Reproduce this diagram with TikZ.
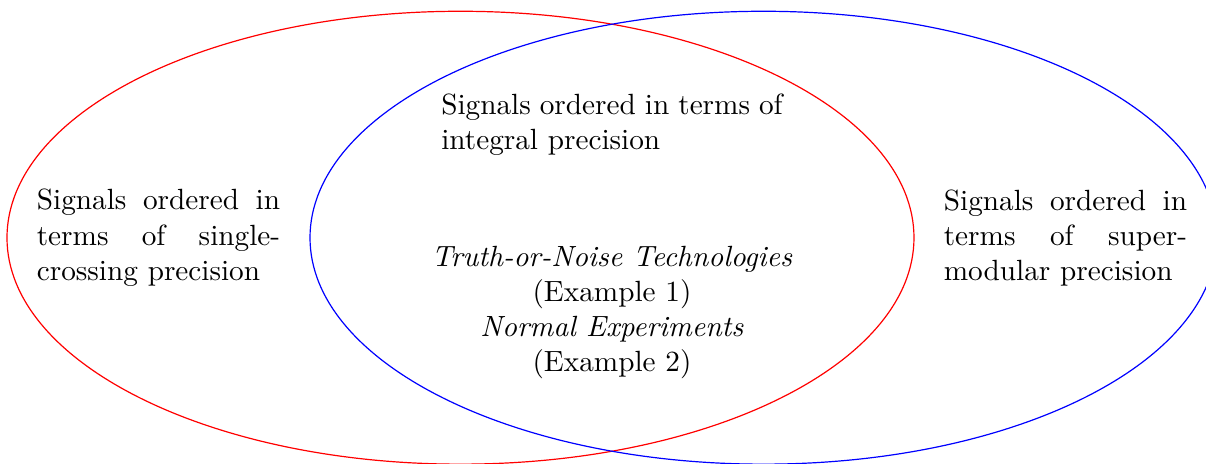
\documentclass[tikz,border=0pt]{standalone}
\begin{document}
\begin{tikzpicture}[every node/.style={font=\fontsize{9.75}{11.7}\selectfont}]
    \useasboundingbox (-5.395,-2.640) rectangle (8.734,2.785);
    \draw[red] (0,0) ellipse (5.313 and 2.653);
    \draw[blue] (3.55,0) ellipse (5.313 and 2.653);
    \node[text width=4cm, align=justify] (integral) at (1.775,1.325) {Signals ordered in terms of integral precision};
    \node[text width=2.85cm, align=justify] (single) at (-3.538,0) {Signals ordered in terms of single-crossing precision};
    \node[text width=2.85cm, align=justify] (super) at (7.088,0) {Signals ordered in terms of supermodular precision};
    \node[align=center] (examples) at (1.775,-0.88) {\textit{Truth-or-Noise Technologies}\\(Example 1)\\\textit{Normal Experiments}\\(Example 2)};
\end{tikzpicture}
\end{document}
